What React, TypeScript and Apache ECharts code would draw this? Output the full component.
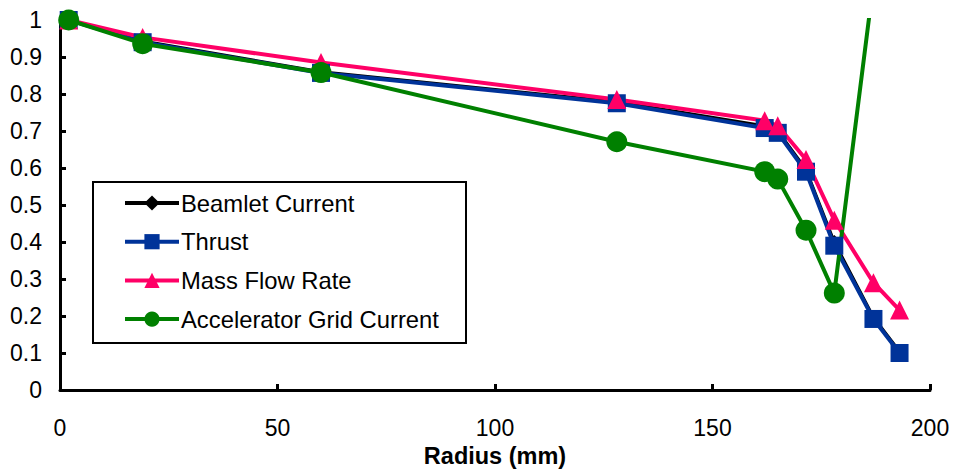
import React, { useEffect, useRef } from "react";
import * as echarts from "echarts";

const radius = [2, 19, 60, 128, 162, 165, 171.5, 178, 187, 193];
const beamletCurrent = [1, 0.943, 0.86, 0.779, 0.714, 0.7, 0.596, 0.4, 0.197, 0.104];
const thrust = [1, 0.94, 0.857, 0.775, 0.708, 0.695, 0.59, 0.39, 0.192, 0.1];
const massFlowRate = [1, 0.953, 0.885, 0.785, 0.728, 0.714, 0.623, 0.459, 0.29, 0.216];
const accelGridRadius = [2, 19, 60, 128, 162, 165, 171.5, 178, 187];
const accelGridCurrent = [1, 0.936, 0.858, 0.671, 0.59, 0.57, 0.432, 0.262, 1.1];

const seriesNames = ["Beamlet Current", "Thrust", "Mass Flow Rate", "Accelerator Grid Current"];
const xTicks = { min: 0, max: 200, interval: 50 };
const yTicks = { min: 0, max: 1, interval: 0.1 };

const FONT = "Arial, 'Liberation Sans', sans-serif";

function pairs(xs: number[], ys: number[]) {
  return ys.map((y, i) => [xs[i], y]);
}

export default function App() {
  const ref = useRef<HTMLDivElement>(null);
  useEffect(() => {
    if (!ref.current) return;
    const chart = echarts.init(ref.current, undefined, { renderer: "svg" });
    const mk = (name: string, data: number[][], color: string, symbol: string, size: number, width: number) => ({
      name,
      type: "line",
      data,
      symbol,
      symbolSize: size,
      clip: true,
      lineStyle: { color, width },
      itemStyle: { color, borderWidth: 0 },
      emphasis: { disabled: true },
    });
    chart.setOption({
      animation: false,
      backgroundColor: "#ffffff",
      textStyle: { fontFamily: FONT },
      grid: { left: 60, right: 25, top: 20, bottom: 83, containLabel: false },
      xAxis: {
        type: "value",
        min: xTicks.min,
        max: xTicks.max,
        interval: xTicks.interval,
        name: "Radius (mm)",
        nameLocation: "middle",
        nameGap: 49,
        nameTextStyle: { fontSize: 23.5, fontWeight: "bold", color: "#000", fontFamily: FONT },
        axisLine: { show: true, lineStyle: { color: "#000", width: 3 } },
        axisTick: { show: true, inside: true, length: 6, lineStyle: { color: "#000", width: 3 } },
        axisLabel: { fontSize: 23, color: "#000", margin: 26, fontFamily: FONT },
        splitLine: { show: false },
      },
      yAxis: {
        type: "value",
        min: yTicks.min,
        max: yTicks.max,
        interval: yTicks.interval,
        axisLine: { show: true, lineStyle: { color: "#000", width: 3 } },
        axisTick: { show: true, inside: true, length: 6, lineStyle: { color: "#000", width: 3 } },
        axisLabel: {
          fontSize: 23,
          color: "#000",
          margin: 18,
          fontFamily: FONT,
          formatter: (v: number) => String(Math.round(v * 10) / 10),
        },
        splitLine: { show: false },
      },
      legend: {
        show: true,
        orient: "vertical",
        left: 123,
        top: 191,
        padding: 0,
        itemGap: 14.7,
        itemWidth: 54,
        itemHeight: 19,
        data: seriesNames,
        lineStyle: { width: 4 },
        textStyle: { fontSize: 23.8, color: "#000", fontFamily: FONT, lineHeight: 24, padding: [0, 0, 0, -3] },
        selectedMode: false,
      },
      graphic: [
        {
          type: "rect",
          shape: { x: 93, y: 182, width: 373, height: 161 },
          style: { fill: "none", stroke: "#000", lineWidth: 2 },
          z: 1,
        },
      ],
      series: [
        mk(seriesNames[0], pairs(radius, beamletCurrent), "#000000", "diamond", 14, 3),
        mk(seriesNames[1], pairs(radius, thrust), "#003399", "rect", 18, 4),
        mk(seriesNames[2], pairs(radius, massFlowRate), "#FF0066", "triangle", 19, 4),
        mk(seriesNames[3], pairs(accelGridRadius, accelGridCurrent), "#008000", "circle", 21, 4),
      ],
    });
    return () => chart.dispose();
  }, []);
  return <div ref={ref} style={{ position: "fixed", left: 0, top: 0, width: 955, height: 473 }} />;
}
